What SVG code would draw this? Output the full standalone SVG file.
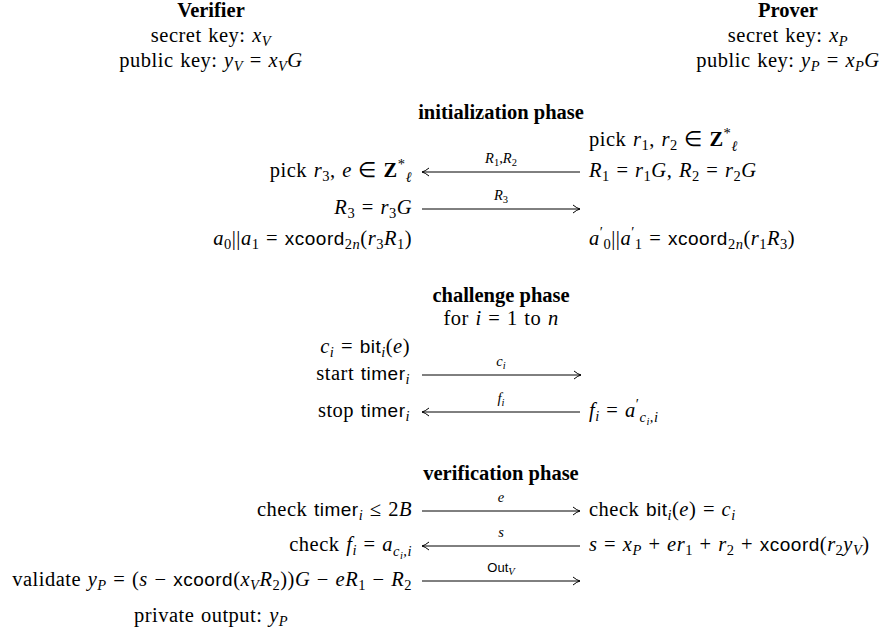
<svg xmlns="http://www.w3.org/2000/svg" width="883" height="631" viewBox="0 0 883 631">
<defs>
<style>
text{font-family:"Liberation Serif","Times New Roman",serif;font-size:20.5px;fill:#000}
.m{letter-spacing:0.5px;word-spacing:1px}
.b{font-weight:bold}
.i{font-style:italic}
.sf{font-family:"Liberation Sans",Arial,sans-serif;font-size:19px;font-style:normal}
.s{font-size:14.5px}
.ss{font-size:10.5px}
.lbl{font-size:14.5px;text-anchor:middle}
.end{text-anchor:end}
.mid{text-anchor:middle}
.arr{stroke:#000;stroke-width:1;fill:none}
</style>
<marker id="ah" viewBox="-9 -5 10 10" markerWidth="10" markerHeight="10" refX="0" refY="0" orient="auto" markerUnits="userSpaceOnUse">
<path d="M-7,-4 Q-3,-0.7 0,0 Q-3,0.7 -7,4" fill="none" stroke="#000" stroke-width="1"/>
</marker>
</defs>
<rect width="883" height="631" fill="#fff"/>

<g id="verifier">
<text class="b mid" x="211" y="17">Verifier</text>
<text class="mid m" x="211" y="42">secret key: <tspan class="i">x</tspan><tspan class="s i" dy="4">V</tspan></text>
<text class="mid m" x="211" y="67">public key: <tspan class="i">y</tspan><tspan class="s i" dy="4">V</tspan><tspan dy="-4"> = </tspan><tspan class="i">x</tspan><tspan class="s i" dy="4">V</tspan><tspan class="i" dy="-4">G</tspan></text>
</g>

<g id="prover">
<text class="b mid" x="788" y="17">Prover</text>
<text class="mid m" x="788" y="42">secret key: <tspan class="i">x</tspan><tspan class="s i" dy="4">P</tspan></text>
<text class="mid m" x="788" y="67">public key: <tspan class="i">y</tspan><tspan class="s i" dy="4">P</tspan><tspan dy="-4"> = </tspan><tspan class="i">x</tspan><tspan class="s i" dy="4">P</tspan><tspan class="i" dy="-4">G</tspan></text>
</g>

<g id="init-phase">
<text class="b mid" x="501" y="119">initialization phase</text>
<text class="m" x="589" y="146">pick <tspan class="i">r</tspan><tspan class="s" dy="4">1</tspan><tspan dy="-4">, </tspan><tspan class="i">r</tspan><tspan class="s" dy="4">2</tspan><tspan dy="-4"> ∈ </tspan><tspan class="b">Z</tspan><tspan class="s" dy="-8">*</tspan><tspan class="s i" dy="13">ℓ</tspan></text>
<text class="end m" x="412" y="177">pick <tspan class="i">r</tspan><tspan class="s" dy="4">3</tspan><tspan dy="-4">, </tspan><tspan class="i">e</tspan> ∈ <tspan class="b">Z</tspan><tspan class="s" dy="-8">*</tspan><tspan class="s i" dy="13">ℓ</tspan></text>
<text class="m" x="589" y="177"><tspan class="i">R</tspan><tspan class="s" dy="4">1</tspan><tspan dy="-4"> = </tspan><tspan class="i">r</tspan><tspan class="s" dy="4">1</tspan><tspan class="i" dy="-4">G</tspan>, <tspan class="i">R</tspan><tspan class="s" dy="4">2</tspan><tspan dy="-4"> = </tspan><tspan class="i">r</tspan><tspan class="s" dy="4">2</tspan><tspan class="i" dy="-4">G</tspan></text>
<text class="end m" x="412" y="214"><tspan class="i">R</tspan><tspan class="s" dy="4">3</tspan><tspan dy="-4"> = </tspan><tspan class="i">r</tspan><tspan class="s" dy="4">3</tspan><tspan class="i" dy="-4">G</tspan></text>
<text class="end m" x="412" y="245"><tspan class="i">a</tspan><tspan class="s" dy="4">0</tspan><tspan dy="-4">||</tspan><tspan class="i">a</tspan><tspan class="s" dy="4">1</tspan><tspan dy="-4"> = </tspan><tspan class="sf">xcoord</tspan><tspan class="s" dy="4">2</tspan><tspan class="s i">n</tspan><tspan dy="-4">(</tspan><tspan class="i">r</tspan><tspan class="s" dy="4">3</tspan><tspan class="i" dy="-4">R</tspan><tspan class="s" dy="4">1</tspan><tspan dy="-4">)</tspan></text>
<text class="m" x="589" y="245"><tspan class="i">a</tspan><tspan class="s" dy="-8">′</tspan><tspan class="s" dy="12">0</tspan><tspan dy="-4">||</tspan><tspan class="i">a</tspan><tspan class="s" dy="-8">′</tspan><tspan class="s" dy="12">1</tspan><tspan dy="-4"> = </tspan><tspan class="sf">xcoord</tspan><tspan class="s" dy="4">2</tspan><tspan class="s i">n</tspan><tspan dy="-4">(</tspan><tspan class="i">r</tspan><tspan class="s" dy="4">1</tspan><tspan class="i" dy="-4">R</tspan><tspan class="s" dy="4">3</tspan><tspan dy="-4">)</tspan></text>
</g>

<g id="challenge-phase">
<text class="b mid" x="501" y="302">challenge phase</text>
<text class="mid m" x="501" y="325">for <tspan class="i">i</tspan> = 1 to <tspan class="i">n</tspan></text>
<text class="end m" x="410" y="353"><tspan class="i">c</tspan><tspan class="s i" dy="4">i</tspan><tspan dy="-4"> = </tspan><tspan class="sf">bit</tspan><tspan class="s i" dy="4">i</tspan><tspan dy="-4">(</tspan><tspan class="i">e</tspan>)</text>
<text class="end m" x="410" y="380">start <tspan class="sf">timer</tspan><tspan class="s i" dy="4">i</tspan></text>
<text class="end m" x="410" y="417">stop <tspan class="sf">timer</tspan><tspan class="s i" dy="4">i</tspan></text>
<text class="m" x="589" y="417"><tspan class="i">f</tspan><tspan class="s i" dy="4">i</tspan><tspan dy="-4"> = </tspan><tspan class="i">a</tspan><tspan class="s" dy="-8">′</tspan><tspan class="s i" dy="13">c</tspan><tspan class="ss i" dy="3">i</tspan><tspan class="s i" dy="-3">,i</tspan></text>
</g>

<g id="verification-phase">
<text class="b mid" x="501" y="480">verification phase</text>
<text class="end m" x="412" y="516">check <tspan class="sf">timer</tspan><tspan class="s i" dy="4">i</tspan><tspan dy="-4"> ≤ 2</tspan><tspan class="i">B</tspan></text>
<text class="m" x="589" y="516">check <tspan class="sf">bit</tspan><tspan class="s i" dy="4">i</tspan><tspan dy="-4">(</tspan><tspan class="i">e</tspan>) = <tspan class="i">c</tspan><tspan class="s i" dy="4">i</tspan></text>
<text class="end m" x="412" y="551">check <tspan class="i">f</tspan><tspan class="s i" dy="4">i</tspan><tspan dy="-4"> = </tspan><tspan class="i">a</tspan><tspan class="s i" dy="5">c</tspan><tspan class="ss i" dy="3">i</tspan><tspan class="s i" dy="-3">,i</tspan></text>
<text class="m" x="589" y="551"><tspan class="i">s</tspan> = <tspan class="i">x</tspan><tspan class="s i" dy="4">P</tspan><tspan dy="-4"> + </tspan><tspan class="i">er</tspan><tspan class="s" dy="4">1</tspan><tspan dy="-4"> + </tspan><tspan class="i">r</tspan><tspan class="s" dy="4">2</tspan><tspan dy="-4"> + </tspan><tspan class="sf">xcoord</tspan>(<tspan class="i">r</tspan><tspan class="s" dy="4">2</tspan><tspan class="i" dy="-4">y</tspan><tspan class="s i" dy="4">V</tspan><tspan dy="-4">)</tspan></text>
<text class="end m" x="412" y="586">validate <tspan class="i">y</tspan><tspan class="s i" dy="4">P</tspan><tspan dy="-4"> = (</tspan><tspan class="i">s</tspan> − <tspan class="sf">xcoord</tspan>(<tspan class="i">x</tspan><tspan class="s i" dy="4">V</tspan><tspan class="i" dy="-4">R</tspan><tspan class="s" dy="4">2</tspan><tspan dy="-4">))</tspan><tspan class="i">G</tspan> − <tspan class="i">eR</tspan><tspan class="s" dy="4">1</tspan><tspan dy="-4"> − </tspan><tspan class="i">R</tspan><tspan class="s" dy="4">2</tspan></text>
<text class="mid m" x="211" y="622">private output: <tspan class="i">y</tspan><tspan class="s i" dy="4">P</tspan></text>
</g>

<g id="connectors">
<line class="arr" x1="580" y1="172" x2="422" y2="172" marker-end="url(#ah)"/>
<text class="lbl" x="501" y="163"><tspan class="i">R</tspan><tspan class="ss" dy="3">1</tspan><tspan dy="-3">,</tspan><tspan class="i">R</tspan><tspan class="ss" dy="3">2</tspan></text>
<line class="arr" x1="422" y1="209" x2="580" y2="209" marker-end="url(#ah)"/>
<text class="lbl" x="501" y="200"><tspan class="i">R</tspan><tspan class="ss" dy="3">3</tspan></text>
<line class="arr" x1="422" y1="375" x2="581" y2="375" marker-end="url(#ah)"/>
<text class="lbl" x="501" y="366"><tspan class="i">c</tspan><tspan class="ss i" dy="3">i</tspan></text>
<line class="arr" x1="580" y1="412" x2="422" y2="412" marker-end="url(#ah)"/>
<text class="lbl" x="501" y="403"><tspan class="i">f</tspan><tspan class="ss i" dy="3">i</tspan></text>
<line class="arr" x1="422" y1="511" x2="580" y2="511" marker-end="url(#ah)"/>
<text class="lbl i" x="501" y="502">e</text>
<line class="arr" x1="580" y1="546" x2="422" y2="546" marker-end="url(#ah)"/>
<text class="lbl i" x="501" y="537">s</text>
<line class="arr" x1="422" y1="581" x2="580" y2="581" marker-end="url(#ah)"/>
<text class="lbl" x="501" y="572"><tspan class="sf" style="font-size:13px">Out</tspan><tspan class="ss i" dy="3">V</tspan></text>
</g>
</svg>
